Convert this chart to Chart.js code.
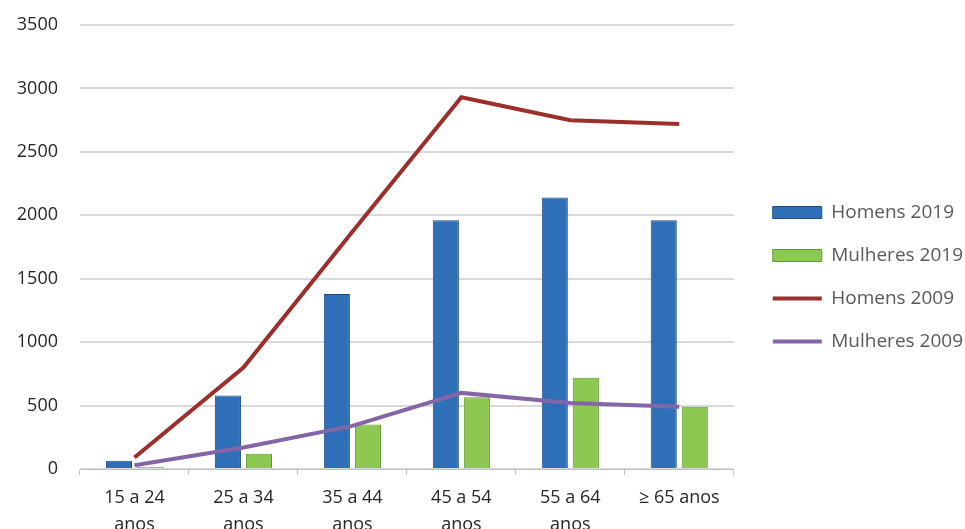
<!DOCTYPE html>
<html>
<head>
<meta charset="utf-8">
<script src="https://cdn.jsdelivr.net/npm/chart.js@4"></script>
<style>
  html, body { margin: 0; padding: 0; background: #fff; overflow: hidden; }
  #wrap { width: 965px; height: 529px; position: relative; }
</style>
</head>
<body>
<div id="wrap"><canvas id="chart"></canvas></div>
<script>
// Data
const categories = [['15 a 24', 'anos'], ['25 a 34', 'anos'], ['35 a 44', 'anos'], ['45 a 54', 'anos'], ['55 a 64', 'anos'], '≥ 65 anos'];
const homens2019 = [65, 580, 1380, 1960, 2140, 1960];
const mulheres2019 = [15, 120, 350, 565, 720, 490];
const homens2009 = [90, 800, 1870, 2930, 2750, 2720];
const mulheres2009 = [30, 170, 340, 600, 520, 490];
const yTicks = [0, 500, 1000, 1500, 2000, 2500, 3000, 3500];

const font = "'Open Sans', sans-serif";

// push the legend a little to the right, like the original
const legendNudge = {
    id: 'legendNudge',
    afterLayout(chart) {
        const lg = chart.legend;
        lg.left += 15; lg.right += 15;
    }
};

const ctx = document.getElementById('chart').getContext('2d');
new Chart(ctx, {
    data: {
        labels: categories,
        datasets: [
            { type: 'bar', label: 'Homens 2019', data: homens2019, order: 1,
              backgroundColor: '#2f6fb8', borderColor: '#1d4c85', borderWidth: 1,
              pointStyle: 'rect', categoryPercentage: 0.57, barPercentage: 0.84 },
            { type: 'bar', label: 'Mulheres 2019', data: mulheres2019, order: 1,
              backgroundColor: '#8cc852', borderColor: '#5f9a32', borderWidth: 1,
              pointStyle: 'rect', categoryPercentage: 0.57, barPercentage: 0.84 },
            { type: 'line', label: 'Homens 2009', data: homens2009, order: 0,
              borderColor: '#9c2f2c', backgroundColor: '#9c2f2c', borderWidth: 4,
              pointStyle: 'line', pointRadius: 0, tension: 0 },
            { type: 'line', label: 'Mulheres 2009', data: mulheres2009, order: 0,
              borderColor: '#8466a8', backgroundColor: '#8466a8', borderWidth: 4,
              pointStyle: 'line', pointRadius: 0, tension: 0 }
        ]
    },
    plugins: [legendNudge],
    options: {
        responsive: true,
        maintainAspectRatio: false,
        animation: false,
        layout: { padding: { top: 25, right: 7, left: 0, bottom: 0 } },
        plugins: {
            tooltip: { enabled: false },
            legend: {
                position: 'right',
                labels: {
                    usePointStyle: true, pointStyleWidth: 49,
                    boxWidth: 49, boxHeight: 12, padding: 24,
                    color: '#595959',
                    font: { family: font, size: 19 },
                    sort: (a, b) => a.datasetIndex - b.datasetIndex
                }
            }
        },
        scales: {
            x: {
                offset: true,
                grid: { drawOnChartArea: false, drawTicks: true, tickLength: 6, color: '#c0c0c0', offset: true },
                border: { color: '#c0c0c0', width: 1 },
                ticks: { color: '#262626', font: { family: font, size: 18, lineHeight: 1.5 }, padding: 9, maxRotation: 0 },
                afterFit: (scale) => { scale.height = 60; }
            },
            y: {
                min: 0, max: 3500,
                afterBuildTicks: (scale) => { scale.ticks = yTicks.map(v => ({ value: v })); },
                afterFit: (scale) => { scale.width = 80; scale.paddingTop = 0; },
                grid: { color: '#d9d9d9', lineWidth: 2, drawTicks: false },
                border: { display: false },
                ticks: { color: '#262626', font: { family: font, size: 18 }, padding: 22,
                         callback: (v) => String(v) }
            }
        }
    }
});
</script>
</body>
</html>
